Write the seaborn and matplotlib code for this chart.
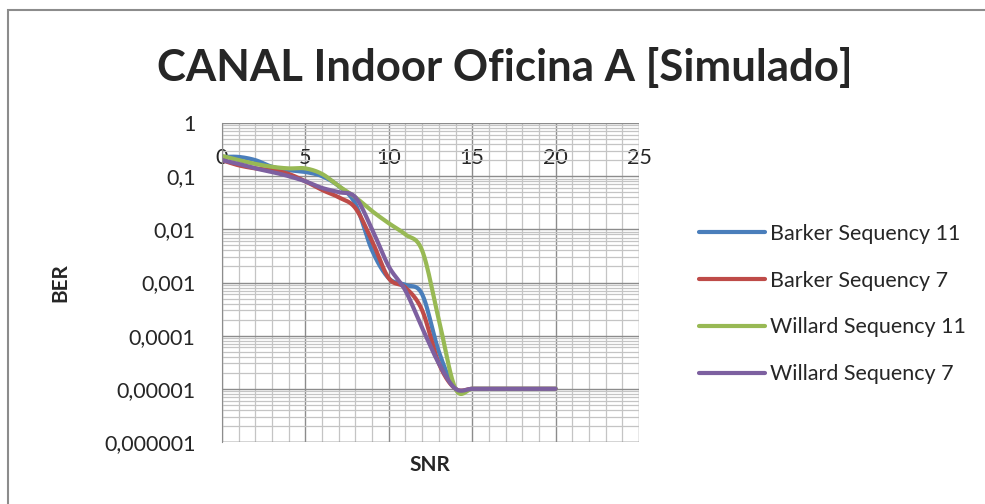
import numpy as np
import pandas as pd
import matplotlib
matplotlib.use('Agg')
import matplotlib.pyplot as plt
import matplotlib.ticker as mticker
from matplotlib.patches import Rectangle
import seaborn as sns

# values (BER at each SNR step)
snr = list(range(0, 21))
barker_11 = [0.23, 0.23, 0.2, 0.15, 0.13, 0.12, 0.1, 0.065, 0.03, 0.004, 0.0012,
             0.0009, 0.0006, 0.00005, 0.00001, 0.00001, 0.00001, 0.00001, 0.00001, 0.00001, 0.00001]
barker_7 = [0.2, 0.16, 0.14, 0.13, 0.11, 0.08, 0.055, 0.04, 0.025, 0.006, 0.0012,
            0.0008, 0.0003, 0.00003, 0.00001, 0.00001, 0.00001, 0.00001, 0.00001, 0.00001, 0.00001]
willard_11 = [0.24, 0.2, 0.17, 0.15, 0.14, 0.14, 0.11, 0.065, 0.04, 0.022, 0.013,
              0.008, 0.004, 0.0002, 0.00001, 0.00001, 0.00001, 0.00001, 0.00001, 0.00001, 0.00001]
willard_7 = [0.2, 0.17, 0.14, 0.12, 0.1, 0.08, 0.06, 0.05, 0.04, 0.01, 0.002,
             0.0007, 0.00014, 0.00003, 0.00001, 0.00001, 0.00001, 0.00001, 0.00001, 0.00001, 0.00001]

series_names = ['Barker Sequency 11', 'Barker Sequency 7', 'Willard Sequency 11', 'Willard Sequency 7']
series_values = [barker_11, barker_7, willard_11, willard_7]
colors = ['#4A7EBB', '#BE4B48', '#98B954', '#7D60A0']

y_ticks = [1e-6, 1e-5, 1e-4, 1e-3, 1e-2, 1e-1, 1]
y_labels = ['0,000001', '0,00001', '0,0001', '0,001', '0,01', '0,1', '1']
x_ticks = [0, 5, 10, 15, 20, 25]


# Excel style "smoothed line": Catmull-Rom spline through the points (in x / log10 y)
def smooth(x, y, steps=20):
    x = np.asarray(x, float)
    ly = np.log10(np.asarray(y, float))
    px = np.concatenate([[2 * x[0] - x[1]], x, [2 * x[-1] - x[-2]]])
    py = np.concatenate([[2 * ly[0] - ly[1]], ly, [2 * ly[-1] - ly[-2]]])
    xs, ys = [], []
    t = np.linspace(0, 1, steps, endpoint=False)
    for i in range(1, len(px) - 2):
        for arr, out in ((px, xs), (py, ys)):
            p0, p1, p2, p3 = arr[i - 1], arr[i], arr[i + 1], arr[i + 2]
            out.extend(0.5 * ((2 * p1) + (-p0 + p2) * t
                              + (2 * p0 - 5 * p1 + 4 * p2 - p3) * t ** 2
                              + (-p0 + 3 * p1 - 3 * p2 + p3) * t ** 3))
    xs.append(x[-1])
    ys.append(ly[-1])
    return np.array(xs), 10 ** np.array(ys)


frames = []
for name, vals in zip(series_names, series_values):
    sx, sy = smooth(snr, vals)
    frames.append(pd.DataFrame({'SNR': sx, 'BER': sy, 'serie': name}))
df = pd.concat(frames, ignore_index=True)

sns.set_style('white')
plt.rcParams['font.family'] = ['Lato', 'DejaVu Sans']

fig = plt.figure(figsize=(9.85, 5.04), dpi=100)
ax = fig.add_axes([222 / 985, 1 - 442 / 504, (639 - 222) / 985, (442 - 123) / 504])

sns.lineplot(data=df, x='SNR', y='BER', hue='serie', palette=colors,
             linewidth=3.0, sort=False, estimator=None, ax=ax, legend=True)

ax.set_yscale('log')
ax.set_ylim(1e-6, 1)
ax.set_xlim(0, 25)

# grid like Excel: major + minor lines
ax.xaxis.set_major_locator(mticker.FixedLocator(x_ticks))
ax.xaxis.set_minor_locator(mticker.MultipleLocator(1))
ax.yaxis.set_major_locator(mticker.FixedLocator(y_ticks))
ax.yaxis.set_minor_locator(mticker.LogLocator(base=10, subs=np.arange(2, 10)))
ax.grid(which='major', color='#8c8c8c', linewidth=1.0)
ax.grid(which='minor', color='#c4c4c4', linewidth=0.9)
ax.set_axisbelow(True)

ax.set_yticks(y_ticks)
ax.set_yticklabels(y_labels)
ax.yaxis.set_minor_formatter(mticker.NullFormatter())
ax.tick_params(axis='y', which='major', length=5, color='#8c8c8c', labelsize=15.5, pad=14)
ax.tick_params(axis='y', which='minor', length=0)

# x axis crosses high up, so its labels float inside the plot
ax.spines['bottom'].set_position(('data', 0.36))
ax.spines['bottom'].set_visible(False)
ax.set_xticks(x_ticks)
ax.set_xticklabels([str(v) for v in x_ticks])
ax.tick_params(axis='x', which='both', length=0, labelsize=15.5, pad=1)
ax.axhline(1e-6, color='#8c8c8c', linewidth=1.0)
for s in ['top', 'right']:
    ax.spines[s].set_visible(False)
ax.spines['left'].set_color('#8c8c8c')

ax.set_xlabel('')
ax.set_ylabel('')
fig.text(430 / 985, 1 - 465 / 504, 'SNR', ha='center', va='center', fontsize=15, fontweight='bold')
fig.text(60 / 985, 1 - 283 / 504, 'BER', ha='center', va='center', rotation=90, fontsize=15, fontweight='bold')
fig.text(505 / 985, 1 - 68 / 504, 'CANAL Indoor Oficina A [Simulado]', ha='center', va='center',
         fontsize=31.5, fontweight='bold')

handles, labels = ax.get_legend_handles_labels()
ax.legend(handles, labels, loc='upper left', bbox_to_anchor=(690 / 985, 1 - 215 / 504),
          bbox_transform=fig.transFigure, frameon=False, fontsize=15.5, handlelength=3.1,
          handletextpad=0.2, labelspacing=1.25, borderaxespad=0)

# chart frame
fig.patches.append(Rectangle((8 / 985, -0.1), 1.2, 1 - 10 / 504 + 0.1, transform=fig.transFigure,
                             fill=False, edgecolor='#8c8c8c', linewidth=1.5))

fig.savefig('out.png', dpi=100)
